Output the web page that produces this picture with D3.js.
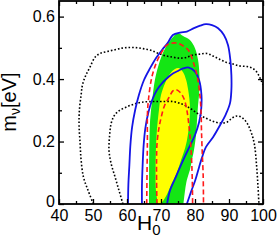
<!DOCTYPE html>
<html>
<head>
<meta charset="utf-8">
<script src="https://cdn.jsdelivr.net/npm/d3@7"></script>
<style>
  body { margin: 0; background: #fff; }
  svg { display: block; font-family: "Liberation Sans", Arial, sans-serif; }
</style>
</head>
<body>
<div class="canvas"></div>
<script>
// contours, as [H0, m_nu] pairs
const greenFill = [[66.5,0],[66.5,0.109],[66.6,0.205],[66.8,0.269],[67.4,0.333],[68.2,0.397],[69.1,0.438],[70.3,0.477],[71.8,0.509],[73.2,0.531],[75.0,0.547],[76.5,0.538],[78.5,0.525],[80.0,0.499],[80.9,0.461],[81.3,0.413],[81.3,0.365],[80.9,0.317],[80.6,0.269],[80.3,0.221],[79.7,0.173],[79.1,0.141],[78.5,0.109],[77.6,0.077],[77.1,0.045],[76.6,0]]
const yellowFill = [[69.1,0],[68.5,0.045],[68.4,0.109],[68.5,0.173],[68.8,0.237],[69.4,0.301],[70.0,0.349],[71.2,0.387],[72.6,0.416],[74.1,0.432],[75.3,0.435],[76.5,0.422],[77.4,0.397],[78.1,0.358],[78.5,0.317],[78.4,0.269],[77.9,0.221],[77.1,0.179],[75.9,0.141],[74.7,0.102],[73.2,0.067],[71.8,0.032],[70.6,0.010],[69.7,0]]
const redOuter = [[65.8,0],[65.9,0.109],[66.0,0.205],[66.0,0.285],[66.3,0.333],[67.3,0.406],[68.7,0.454],[70.2,0.486],[71.7,0.509],[73.1,0.515],[74.7,0.515],[76.1,0.509],[78.0,0.493],[79.5,0.454],[80.7,0.406],[81.5,0.342],[81.8,0.291],[81.9,0.237],[82.1,0.173],[82.4,0.093],[82.5,0]]
const redInner = [[68.8,0],[68.7,0.077],[68.7,0.141],[68.8,0.189],[69.3,0.237],[70.0,0.275],[71.0,0.314],[72.4,0.342],[73.5,0.362],[74.4,0.366],[75.6,0.358],[76.8,0.336],[77.6,0.301],[78.2,0.253],[78.7,0.195],[79.0,0.141],[79.2,0.077],[79.3,0]]
const blueOuter = [[60.3,0],[60.4,0.061],[60.7,0.125],[61.0,0.189],[61.5,0.246],[62.4,0.301],[63.5,0.349],[65.0,0.397],[66.8,0.435],[68.5,0.467],[70.3,0.493],[72.1,0.518],[73.5,0.541],[75.6,0.549],[77.6,0.552],[79.7,0.563],[81.5,0.571],[83.2,0.576],[85.0,0.573],[86.8,0.563],[88.5,0.541],[89.7,0.509],[90.4,0.461],[90.7,0.413],[90.7,0.365],[90.3,0.323],[89.1,0.288],[87.4,0.253],[85.3,0.214],[83.2,0.182],[82.1,0.150],[81.2,0.118],[80.1,0.077],[78.8,0.038],[77.6,0]]
const blueInner = [[64.4,0],[64.4,0.061],[64.6,0.125],[64.9,0.189],[65.4,0.243],[66.3,0.294],[67.4,0.333],[68.8,0.365],[70.6,0.390],[72.1,0.406],[73.5,0.418],[75.0,0.426],[76.5,0.434],[78.2,0.437],[80.0,0.424],[81.2,0.397],[81.9,0.349],[81.8,0.301],[81.2,0.262],[80.0,0.221],[78.5,0.186],[77.1,0.154],[75.6,0.118],[74.1,0.080],[72.6,0.042],[71.8,0]]
const dotInner = [[58.8,0],[57.6,0.045],[56.5,0.086],[55.3,0.131],[54.7,0.173],[54.9,0.221],[55.3,0.256],[56.2,0.282],[57.6,0.298],[59.7,0.310],[62.1,0.320],[64.4,0.326],[67.4,0.328],[70.3,0.328],[73.5,0.328],[76.2,0.320],[78.5,0.307],[80.6,0.291],[82.6,0.278],[85.0,0.266],[87.4,0.259],[89.4,0.262],[90.9,0.275],[92.4,0.282],[93.8,0.277],[95.3,0.259],[96.6,0.227],[97.5,0.189],[98.1,0.125],[98.5,0.061],[98.8,0]]
const dotOuter = [[50.1,0],[48.5,0.045],[47.2,0.086],[46.5,0.141],[46.2,0.195],[45.9,0.253],[46.0,0.301],[46.5,0.349],[46.9,0.381],[47.8,0.410],[49.1,0.438],[50.6,0.470],[52.1,0.482],[54.1,0.488],[56.5,0.494],[58.5,0.499],[60.3,0.501],[62.4,0.501],[64.4,0.498],[66.8,0.493],[69.1,0.483],[71.2,0.475],[73.5,0.470],[75.6,0.467],[77.4,0.469],[79.4,0.477],[81.5,0.480],[83.5,0.482],[85.3,0.474],[87.1,0.464],[89.1,0.454],[91.2,0.448],[93.2,0.442],[95.3,0.440],[96.8,0.435],[97.9,0.426],[98.8,0.411],[99.4,0.397],[100,0.381]]

const hTicks = [40, 50, 60, 70, 80, 90, 100]
const hMinor = [45, 55, 65, 75, 85, 95]
const mTicks = [0, 0.2, 0.4, 0.6]
const mMinor = [0.1, 0.3, 0.5]

let width = 279,
    height = 244,
    pLeft = 59, pRight = 263, pTop = 1, pBottom = 204

let svg = d3.select('.canvas').append('svg')
    .attr('width', width)
    .attr('height', height)

let x = d3.scaleLinear().domain([40, 100]).range([pLeft, pRight])
let y = d3.scaleLinear().domain([0, 0.65]).range([pBottom, pTop])

svg.append('clipPath').attr('id', 'plot')
    .append('rect')
    .attr('x', pLeft).attr('y', pTop)
    .attr('width', pRight - pLeft).attr('height', pBottom - pTop)

let g = svg.append('g').attr('clip-path', 'url(#plot)')

let line = d3.line()
    .x(d => x(d[0]))
    .y(d => y(d[1]))
    .curve(d3.curveCatmullRom)

// FILLED REGIONS
g.append('path').attr('d', line(greenFill) + 'Z').attr('fill', '#14e614')
g.append('path').attr('d', line(yellowFill) + 'Z').attr('fill', '#ffff00')

// DOTTED
;[dotOuter, dotInner].forEach(c => {
    g.append('path').attr('d', line(c))
        .attr('fill', 'none').attr('stroke', '#000')
        .attr('stroke-width', 1.6).attr('stroke-dasharray', '1.6,2')
})

// BLUE
;[blueOuter, blueInner].forEach(c => {
    g.append('path').attr('d', line(c))
        .attr('fill', 'none').attr('stroke', '#1414e6')
        .attr('stroke-width', 1.8)
})

// RED DASHED
;[redOuter, redInner].forEach(c => {
    g.append('path').attr('d', line(c))
        .attr('fill', 'none').attr('stroke', '#ff1a1a')
        .attr('stroke-width', 1.6).attr('stroke-dasharray', '5,3')
})

// AXES
function ticks(axis, vals, size, tx, labels, pad) {
    let a = svg.append('g')
        .attr('transform', tx)
        .call(axis.tickValues(vals).tickSize(-size).tickPadding(pad || 3)
            .tickFormat(labels ? d3.format('') : ''))
    a.select('.domain').remove()
    a.selectAll('line').attr('stroke', '#000').attr('stroke-width', 1.3)
    a.selectAll('text').attr('font-size', 16).attr('fill', '#000')
        .attr('font-family', '"Liberation Sans", Arial, sans-serif')
    return a
}

ticks(d3.axisBottom(x), hTicks, 5, `translate(0,${pBottom})`, true, 6)
ticks(d3.axisBottom(x), hMinor, 3, `translate(0,${pBottom})`, false)
ticks(d3.axisTop(x), hTicks, 5, `translate(0,${pTop})`, false)
ticks(d3.axisTop(x), hMinor, 3, `translate(0,${pTop})`, false)
let yAx = ticks(d3.axisLeft(y), mTicks, 5, `translate(${pLeft},0)`, true, 4)
// the 0 label sits a touch high so it clears the 40 below it
yAx.selectAll('text').filter(d => d === 0).attr('dy', '0.15em')
ticks(d3.axisLeft(y), mMinor, 3, `translate(${pLeft},0)`, false)
ticks(d3.axisRight(y), mTicks, 5, `translate(${pRight},0)`, false)
ticks(d3.axisRight(y), mMinor, 3, `translate(${pRight},0)`, false)

svg.append('rect')
    .attr('x', pLeft).attr('y', pTop)
    .attr('width', pRight - pLeft).attr('height', pBottom - pTop)
    .attr('fill', 'none').attr('stroke', '#000').attr('stroke-width', 1.8)

// LABELS
let xl = svg.append('text')
    .attr('x', 137).attr('y', 230)
    .attr('font-size', 21)
xl.append('tspan').text('H')
xl.append('tspan').text('0').attr('font-size', 15).attr('dy', 4.5)

let yl = svg.append('text')
    .attr('transform', 'translate(15.5,102) rotate(-90)')
    .attr('text-anchor', 'middle')
    .attr('font-size', 20)
yl.append('tspan').text('m')
yl.append('tspan').text('ν').attr('font-size', 14).attr('dy', 4)
yl.append('tspan').text('[eV]').attr('dy', -4)
</script>
</body>
</html>
